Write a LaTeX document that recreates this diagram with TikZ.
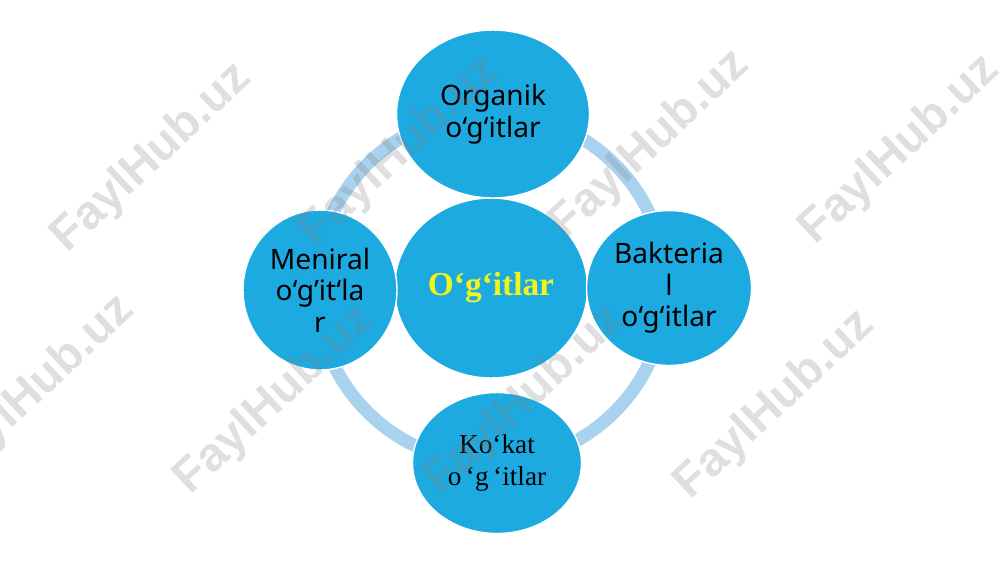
\documentclass[tikz,border=0pt]{standalone}
\usepackage{fontspec}
\usepackage{tikz}
\usetikzlibrary{positioning,shapes.geometric}
\newfontfamily\labelfont{Noto Sans}
\newfontfamily\romanfont{Liberation Serif}
\newfontfamily\markfont{Liberation Sans}
\definecolor{disc}{HTML}{1DAAE1}
\definecolor{hoop}{HTML}{A8D2EE}
\definecolor{gold}{HTML}{F2F518}
\tikzset{
    %Define style for the discs
    part/.style={
    ellipse,
    draw=white, line width=0.8pt,
    inner sep=0pt,
    align=center,
    font=\labelfont\fontsize{16}{18}\selectfont,
    fill=disc
   },
    %Define style for the hub
    hub/.style={
    part,
    font=\romanfont\bfseries\fontsize{19}{22}\selectfont,
    text=gold
   },
    % Define ring style
    ringline/.style={
           draw=hoop,
           line width=13*0.02cm},
    watermark/.style={
    font=\markfont\bfseries\fontsize{27}{27}\selectfont,
    text=gray, text opacity=0.25,
    rotate=43
   }
}
\begin{document}
\begin{tikzpicture}[x=0.02cm,y=-0.02cm]
		\useasboundingbox (0,0) rectangle (1000,562);
		\coordinate (mid) at (491,288);
		\draw[ringline] (mid) circle (175);
		\node[hub, minimum width=3.86cm, minimum height=3.6cm] (hub) at (mid) {O‘g‘itlar};
		\node[part, minimum width=3.86cm, minimum height=3.36cm] (top) at (493,114) {Organik\\o‘g‘itlar};
		\node[part, minimum width=3.08cm, minimum height=3.2cm] (left) at (320,290) {Meniral\\o‘g’it‘la\\r};
		\node[part, minimum width=3.3cm, minimum height=3.1cm] (right) at (669,288) {Bakteria\\l\\o‘g‘itlar};
		\node[part, minimum width=3.38cm, minimum height=2.82cm,
		font=\romanfont\fontsize{15.5}{18.4}\selectfont] (bottom) at (497,463) {Ko‘kat\\o\,‘g\,‘itlar};
		% watermarks
		\foreach \x/\y [count=\i] in {152/158,400/152,650/145,900/150,35/390,275/400,525/400,775/405}
		\node[watermark] (mark\i) at (\x,\y) {FaylHub.uz};
		\end{tikzpicture}
\end{document}
